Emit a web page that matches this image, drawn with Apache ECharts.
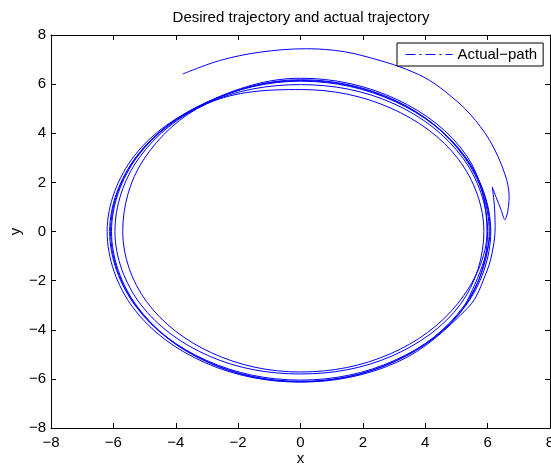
<!DOCTYPE html>
<html>
<head>
<meta charset="utf-8">
<script src="https://cdn.jsdelivr.net/npm/echarts@6/dist/echarts.min.js"></script>
<style>
html,body{margin:0;padding:0;background:#fff;}
#chart{width:551px;height:464px;}
</style>
</head>
<body>
<div id="chart"></div>
<script>
// Tick values
var xTicks = [-8, -6, -4, -2, 0, 2, 4, 6, 8];
var yTicks = [-8, -6, -4, -2, 0, 2, 4, 6, 8];

// Trajectory, in drawing order
var outerArc = [
  [-3.78, 6.41], [-2.59, 6.96], [-1.30, 7.30], [0.19, 7.44], [1.40, 7.32],
  [2.55, 6.96], [3.40, 6.60], [4.14, 6.15], [4.83, 5.50], [5.43, 4.79],
  [6.07, 3.70], [6.55, 2.35], [6.69, 1.40], [6.55, 0.48]
];
var hookAndCusp = [
  [6.42, 0.92], [6.28, 1.37], [6.15, 1.81],
  [6.22, 1.00], [6.24, 0.18], [6.18, -0.63], [5.98, -1.60]
];
var loop1 = [
  [5.37, -3.10], [3.08, -5.33], [0, -6.13], [-3.08, -5.33], [-5.37, -3.10], [-6.20, 0],
  [-5.33, 3.08], [-3.03, 5.25], [0, 6.24], [3.10, 5.37], [5.33, 3.08], [5.98, 0]
];
var loop2 = [
  [5.05, -2.92], [2.88, -4.98], [0, -5.72], [-2.85, -4.94], [-4.94, -2.85], [-5.70, 0],
  [-5.04, 2.91], [-3.00, 5.20], [0, 5.78], [2.90, 5.02], [5.07, 2.93], [5.88, 0]
];
var loop3 = [
  [5.13, -2.96], [2.93, -5.07], [0, -5.80], [-2.93, -5.07], [-5.13, -2.96], [-5.95, 0],
  [-5.18, 2.99], [-3.01, 5.21], [0, 5.98], [3.00, 5.20], [5.20, 3.00], [6.00, 0]
];
var loop4 = [
  [5.27, -3.04], [3.03, -5.24], [0, -6.05], [-3.03, -5.24], [-5.28, -3.05], [-6.12, 0],
  [-5.27, 3.04], [-3.03, 5.24], [0, 6.15], [3.06, 5.30], [5.28, 3.05], [6.10, 0]
];
var loop5 = [
  [5.28, -3.05], [3.05, -5.28], [0, -6.10], [-3.04, -5.27], [-5.25, -3.03], [-6.06, 0],
  [-5.24, 3.03], [-3.02, 5.23], [0, 6.18], [3.07, 5.32], [5.25, 3.03], [6.05, 0]
];
var loop6 = [
  [5.24, -3.03], [3.04, -5.27], [0, -6.12], [-3.05, -5.28], [-5.27, -3.04], [-6.09, 0],
  [-5.26, 3.04], [-3.03, 5.24], [0, 6.12], [3.05, 5.28], [5.27, 3.04], [6.08, 0],
  [5.26, -3.04]
];

var seriesName = 'Actual\u2212path';
var titleText = 'Desired trajectory and actual trajectory';

var pathData = [].concat(outerArc, hookAndCusp, loop1, loop2, loop3, loop4, loop5, loop6);

var FONT = 'Liberation Sans, Arial, Helvetica, sans-serif';
function fmt(v) { return v < 0 ? '\u2212' + (-v) : String(v); }

var axisCommon = {
  type: 'value',
  splitLine: { show: false },
  axisLine: { show: true, onZero: false, lineStyle: { color: '#000', width: 1 } },
  axisTick: { show: true, inside: true, length: 5, lineStyle: { color: '#000', width: 1 } }
};

var chart = echarts.init(document.getElementById('chart'), null, { renderer: 'canvas' });
chart.setOption({
  animation: false,
  backgroundColor: '#fff',
  title: {
    text: titleText,
    left: 301,
    top: 10,
    padding: 0,
    textAlign: 'center',
    textStyle: { fontFamily: FONT, fontSize: 15, fontWeight: 'normal', color: '#000' }
  },
  grid: { left: 51, right: 1, top: 35, bottom: 36, containLabel: false, outerBoundsMode: 'none' },
  legend: {
    left: 397,
    top: 43,
    orient: 'horizontal',
    padding: [4, 6, 4, 8],
    itemWidth: 47,
    itemHeight: 14,
    borderColor: '#000',
    borderWidth: 1,
    backgroundColor: '#fff',
    selectedMode: false,
    itemStyle: { opacity: 0 },
    textStyle: { fontFamily: FONT, fontSize: 15, color: '#000' },
    data: [{
      name: seriesName,
      itemStyle: { opacity: 0 },
      lineStyle: { color: '#0000ff', width: 1, type: [10, 4, 2, 4], opacity: 1 }
    }]
  },
  xAxis: [
    Object.assign({}, axisCommon, {
      position: 'bottom',
      min: xTicks[0], max: xTicks[xTicks.length - 1], interval: xTicks[1] - xTicks[0],
      name: 'x', nameLocation: 'middle', nameGap: 23, nameMoveOverlap: false,
      nameTextStyle: { fontFamily: FONT, fontSize: 15, color: '#000' },
      axisLabel: { show: true, margin: 7, color: '#000', fontFamily: FONT, fontSize: 15, formatter: fmt }
    }),
    Object.assign({}, axisCommon, {
      position: 'top',
      min: xTicks[0], max: xTicks[xTicks.length - 1], interval: xTicks[1] - xTicks[0],
      axisLabel: { show: false }
    })
  ],
  yAxis: [
    Object.assign({}, axisCommon, {
      position: 'left',
      min: yTicks[0], max: yTicks[yTicks.length - 1], interval: yTicks[1] - yTicks[0],
      name: 'y', nameLocation: 'middle', nameGap: 28, nameRotate: 90, nameMoveOverlap: false,
      nameTextStyle: { fontFamily: FONT, fontSize: 15, color: '#000' },
      axisLabel: { show: true, margin: 5, color: '#000', fontFamily: FONT, fontSize: 15, formatter: fmt }
    }),
    Object.assign({}, axisCommon, {
      position: 'right',
      min: yTicks[0], max: yTicks[yTicks.length - 1], interval: yTicks[1] - yTicks[0],
      axisLabel: { show: false }
    })
  ],
  series: [{
    name: seriesName,
    type: 'line',
    xAxisIndex: 0,
    yAxisIndex: 0,
    data: pathData,
    smooth: 0.35,
    symbol: 'none',
    showSymbol: false,
    clip: true,
    lineStyle: { color: '#0000ff', width: 1 },
    itemStyle: { color: '#0000ff' }
  }]
});
</script>
</body>
</html>
